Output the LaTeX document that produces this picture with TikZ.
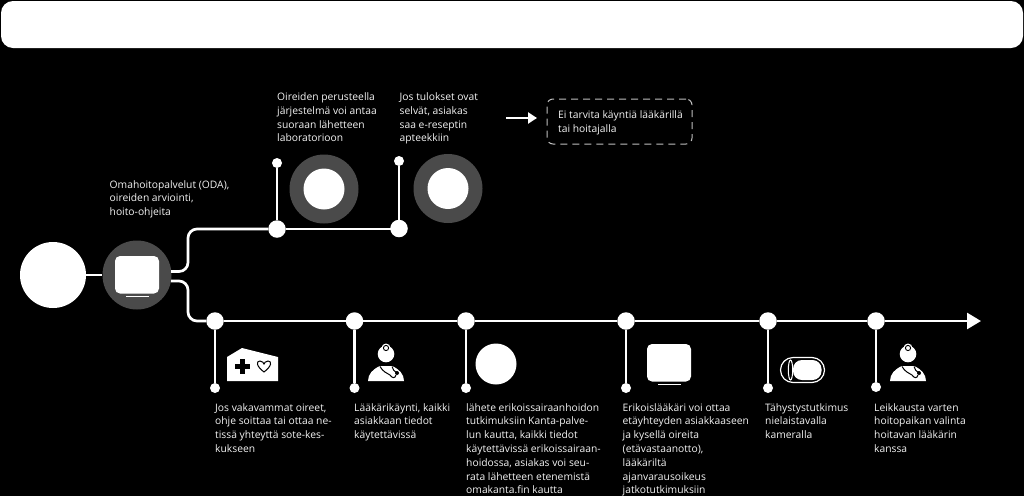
\documentclass[tikz,border=0pt]{standalone}
\usepackage{fontspec}
\setmainfont{Open Sans}
\usetikzlibrary{arrows.meta}
\definecolor{ringgrey}{HTML}{4A4A4A}
\definecolor{txt}{HTML}{F4F4F4}
\tikzset{
  line/.style={draw=white,line width=2.7pt},
  big/.style={circle,fill=white,inner sep=0pt,minimum size=17.5pt},
  dot/.style={circle,fill=white,inner sep=0pt,minimum size=10pt},
  ring/.style={circle,fill=ringgrey,inner sep=0pt,minimum size=69pt},
  disc/.style={circle,fill=white,inner sep=0pt,minimum size=41pt},
  lab/.style={anchor=north west,inner sep=0pt,align=left,text=txt,font=\fontsize{10.3}{13.8}\selectfont},
  doctor/.pic={
    \fill[white] (-18,0) .. controls (-18,-7) and (-13,-12) .. (-6,-15) -- (6,-15) .. controls (13,-12) and (18,-7) .. (18,0) -- cycle;
    \fill[black] (-8,-17) rectangle (8,-18.5);
    \fill[white] (0,-27) circle (8.3);
    \fill[white] (0,-33) circle (4.5);
    \draw[black,line width=0.9pt] (0,-33) circle (2.6);
    \draw[black,line width=1pt] (-6,-14.5) .. controls (-3,-9) and (1,-8) .. (4,-6) .. controls (6,-3) and (9,-2) .. (10,-6);
    \draw[black,line width=1pt] (6,-14.5) .. controls (6,-11) and (9,-10) .. (11,-8);
    \fill[black] (11,-8) circle (2);
  },
  screen/.pic={
    \fill[white,rounded corners=5pt] (-22,-19) rectangle (22,18.5);
    \fill[white] (-11.5,20.5) rectangle (11.5,22);
  }
}
\begin{document}
\begin{tikzpicture}[x=1pt,y=-1pt]
\fill[black] (0,0) rectangle (1024,496);
\useasboundingbox (0,0) rectangle (1024,496);
\fill[white,rounded corners=12pt] (1,1) rectangle (1023,48);

% circles
\node[circle,fill=white,inner sep=0pt,minimum size=66pt] (start) at (53,275) {};
\node[ring] (oda) at (137,275) {};
\draw[line] (start) -- (oda);
\pic at (137,275) {screen};

% branch coordinates
\coordinate (upS) at (171,271.5);
\coordinate (lowS) at (171,281);
\node[big] (u1) at (277,229) {};
\node[big] (u2) at (399,228.5) {};
\node[dot] (ut1) at (277,163) {};
\node[dot] (ut2) at (399,161) {};
\draw[line,rounded corners=9pt] (upS) -- (188,271.5) -- (188,229) -- (u1);
\draw[line] (u1) -- (u1-|u2);
\draw[line] (u1) -- (ut1);
\draw[line] (u2) -- (ut2);
\node[ring] (r1) at (324,189) {};
\node[disc] at (324,189) {};
\node[ring] (r2) at (448,188.5) {};
\node[disc] at (448,188.5) {};

% main line
\node[big] (m1) at (215,321) {};
\node[big] (m2) at (354.5,321) {};
\node[big] (m3) at (466,321) {};
\node[big] (m4) at (626,321) {};
\node[big] (m5) at (768,321) {};
\node[big] (m6) at (876,321) {};
\coordinate (tip) at (981,321);
\node[dot] (d1) at (215,388) {};
\node[dot] (d2) at (354.5,388) {};
\node[dot] (d3) at (466,388) {};
\node[dot] (d4) at (626,388) {};
\node[dot] (d5) at (768,388) {};
\node[dot] (d6) at (876,387) {};
\draw[line,rounded corners=9pt] (lowS) -- (188,281) -- (188,321) -- (m1);
\draw[line] (m1) -- (m2);
\draw[line] (m2) -- (m3);
\draw[line] (m3) -- (m4);
\draw[line] (m4) -- (m5);
\draw[line] (m5) -- (m6);
\draw[line,-{Triangle[length=14pt,width=16pt]}] (m6) -- (tip);
\foreach \a/\b in {m1/d1,m2/d2,m3/d3,m4/d4,m5/d5,m6/d6} \draw[line] (\a) -- (\b);

% hospital icon
\fill[white] (227,357) -- (242,348) -- (278,357) -- (278,381) -- (227,381) -- cycle;
\fill[black] (239.5,359) rectangle (244.5,374);
\fill[black] (234.5,364) rectangle (249.5,369);
\draw[black,line width=1pt] (264,372) .. controls (256,366) and (256,361) .. (260,361) .. controls (262,361) and (264,363) .. (264,364) .. controls (264,363) and (266,361) .. (268,361) .. controls (272,361) and (272,366) .. (264,372) -- cycle;

\pic at (386,381) {doctor};
\pic at (908,381) {doctor};
\node[disc] (c3) at (496,364) {};
\pic at (669,363) {screen};

% capsule
\draw[white,line width=1.2pt,rounded corners=12.5pt] (780.5,357.5) rectangle (824.5,382.5);
\fill[white,rounded corners=9pt] (793,360) rectangle (821.5,380);
\draw[white,line width=1pt] (790.5,370) ellipse (2.2 and 10);

% dashed box + arrow
\node[draw=white!75!black,dash pattern=on 7pt off 5pt,line width=1pt,rounded corners=6pt,minimum width=145pt,minimum height=45pt,inner sep=0pt] (box) at (619.5,121.5) {};
\coordinate (arrS) at (506,118);
\coordinate (arrE) at (537,118);
\draw[line,-{Triangle[length=9pt,width=11pt]}] (arrS) -- (arrE);

% labels
\node[lab] (t1) at (109.5,180) {Omahoitopalvelut (ODA),\\oireiden arviointi,\\hoito-ohjeita};
\node[lab] (t2) at (277,92.5) {Oireiden perusteella\\järjestelmä voi antaa\\suoraan lähetteen\\laboratorioon};
\node[lab] (t3) at (399.5,92.5) {Jos tulokset ovat\\selvät, asiakas\\saa e-reseptin\\apteekkiin};
\node[lab] (t4) at (558,110.5) {Ei tarvita käyntiä lääkärillä\\tai hoitajalla};
\node[lab] (t5) at (215,403) {Jos vakavammat oireet,\\ohje soittaa tai ottaa ne-\\tissä yhteyttä sote-kes-\\kukseen};
\node[lab] (t6) at (354,403) {Lääkärikäynti, kaikki\\asiakkaan tiedot\\käytettävissä};
\node[lab] (t7) at (466,403) {lähete erikoissairaanhoidon\\tutkimuksiin Kanta-palve-\\lun kautta, kaikki tiedot\\käytettävissä erikoissairaan-\\hoidossa, asiakas voi seu-\\rata lähetteen etenemistä\\omakanta.fin kautta};
\node[lab] (t8) at (622.5,403) {Erikoislääkäri voi ottaa\\etäyhteyden asiakkaaseen\\ja kysellä oireita\\(etävastaanotto),\\lääkäriltä\\ajanvarausoikeus\\jatkotutkimuksiin};
\node[lab] (t9) at (765,403) {Tähystystutkimus\\nielaistavalla\\kameralla};
\node[lab] (t10) at (874,403) {Leikkausta varten\\hoitopaikan valinta\\hoitavan lääkärin\\kanssa};
\end{tikzpicture}
\end{document}
